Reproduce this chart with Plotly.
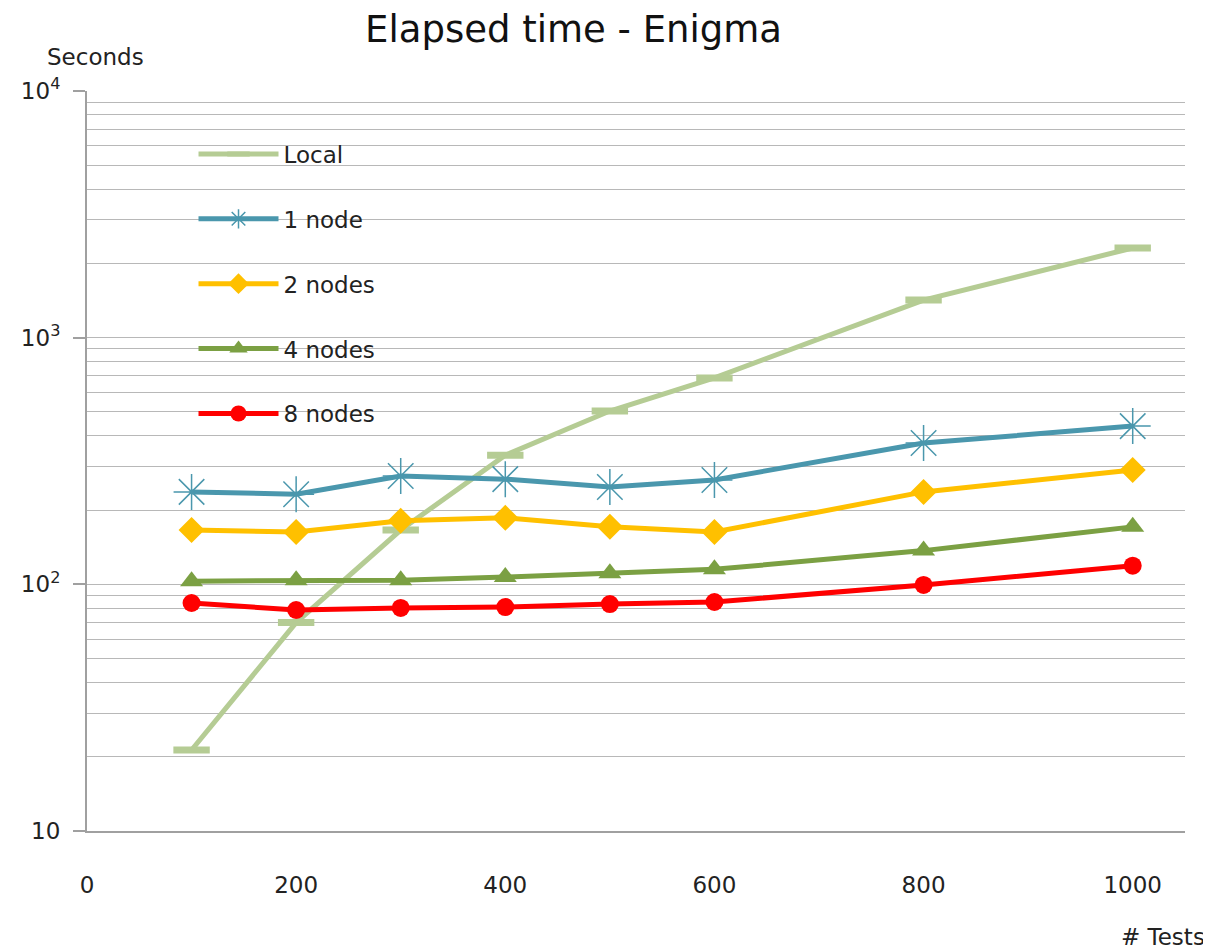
import plotly.graph_objects as go

tests = [100, 200, 300, 400, 500, 600, 800, 1000]
local = [21.3, 70, 166, 334, 504, 687, 1420, 2310]
node1 = [237, 232, 275, 267, 248, 265, 374, 438]
node2 = [166, 163, 181, 186, 171, 163, 237, 291]
node4 = [103, 104, 104, 107, 111, 115, 137, 171]
node8 = [84, 78.7, 80.2, 80.9, 83.2, 84.8, 99.4, 119]

x_ticks = [0, 200, 400, 600, 800, 1000]
y_ticks = [10, 100, 1000, 10000]
y_tick_text = ["10", "10<sup>2</sup>", "10<sup>3</sup>", "10<sup>4</sup>"]
y_minor = [m * d for d in (10, 100, 1000) for m in range(2, 10)]

FONT = "DejaVu Sans, Verdana, sans-serif"

fig = go.Figure()

series = [
    ("Local", local, "#b5cc94", dict(symbol="line-ew", size=26, line=dict(width=7, color="#b5cc94"))),
    ("1 node", node1, "#4a97ad", dict(symbol="asterisk-open", size=30, line=dict(width=1.5, color="#5fb3cb"))),
    ("2 nodes", node2, "#ffc000", dict(symbol="diamond", size=20, color="#ffc000")),
    ("4 nodes", node4, "#7ba043", dict(symbol="triangle-up", size=20, color="#7ba043")),
    ("8 nodes", node8, "#ff0000", dict(symbol="circle", size=18, color="#ff0000")),
]
for name, vals, col, mk in series:
    fig.add_trace(go.Scatter(
        x=tests, y=vals, name=name, mode="lines+markers",
        line=dict(color=col, width=5), marker=mk, legendgroup=name,
    ))

fig.update_layout(
    width=1211, height=952,
    margin=dict(l=79, r=34, t=83, b=129),
    paper_bgcolor="white", plot_bgcolor="white",
    font=dict(family=FONT, color="#222", size=23),
    title=dict(text="Elapsed time - Enigma", x=0.467, xanchor="center", y=0.991, yanchor="top",
               font=dict(size=37, color="#111", family=FONT)),
    showlegend=True,
    legend=dict(x=0.097, y=0.944, xanchor="left", yanchor="top", bgcolor="rgba(0,0,0,0)",
                font=dict(size=23, color="#222"), tracegroupgap=32, itemwidth=80),
    xaxis=dict(range=[0, 1050], tickvals=x_ticks, showgrid=False, zeroline=False,
               showline=True, linecolor="#a0a0a0", linewidth=2, ticks="",
               ticklabelstandoff=32, tickfont=dict(size=23)),
    yaxis=dict(type="log", range=[1, 4], tickvals=y_ticks, ticktext=y_tick_text,
               showgrid=True, gridcolor="#b8b8b8", gridwidth=1,
               showline=True, linecolor="#a0a0a0", linewidth=2,
               ticks="outside", ticklen=12, tickcolor="#a0a0a0", tickwidth=2,
               ticklabelstandoff=8, tickfont=dict(size=23), zeroline=False,
               minor=dict(tickvals=y_minor, showgrid=True, gridcolor="#b8b8b8", gridwidth=1, ticks="")),
    annotations=[
        dict(text="Seconds", xref="paper", yref="paper", x=-0.038, y=1.046, xanchor="left",
             yanchor="middle", showarrow=False, font=dict(size=23, color="#222")),
        dict(text="# Tests", xref="paper", yref="paper", x=1.02, y=-0.143, xanchor="right",
             yanchor="middle", showarrow=False, font=dict(size=23, color="#222")),
    ],
)

fig.write_html("out.html")
